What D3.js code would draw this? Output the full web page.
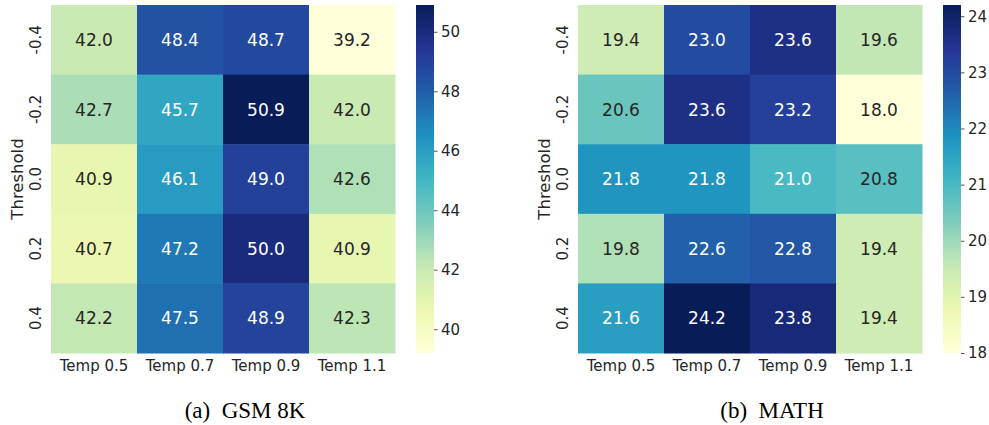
<!DOCTYPE html>
<html>
<head>
<meta charset="utf-8">
<script src="https://cdn.jsdelivr.net/npm/d3@7"></script>
<style>
  body { margin: 0; background: #fff; }
  text { font-family: "DejaVu Sans", sans-serif; }
</style>
</head>
<body>
<svg id="chart" width="989" height="425"></svg>
<script>
// categories
const temps = ["Temp 0.5", "Temp 0.7", "Temp 0.9", "Temp 1.1"];
const thresholds = ["-0.4", "-0.2", "0.0", "0.2", "0.4"];

// values, one row per threshold
const gsmValues = [
    [42.0, 48.4, 48.7, 39.2],
    [42.7, 45.7, 50.9, 42.0],
    [40.9, 46.1, 49.0, 42.6],
    [40.7, 47.2, 50.0, 40.9],
    [42.2, 47.5, 48.9, 42.3]
];
const mathValues = [
    [19.4, 23.0, 23.6, 19.6],
    [20.6, 23.6, 23.2, 18.0],
    [21.8, 21.8, 21.0, 20.8],
    [19.8, 22.6, 22.8, 19.4],
    [21.6, 24.2, 23.8, 19.4]
];

// colorbar ticks
const gsmTicks = [40, 42, 44, 46, 48, 50];
const mathTicks = [18, 19, 20, 21, 22, 23, 24];

// matplotlib YlGnBu (colorbrewer 9, linear)
const ylgnbu = ["#ffffd9", "#edf8b1", "#c7e9b4", "#7fcdbb", "#41b6c4",
                "#1d91c0", "#225ea8", "#253494", "#081d58"];
const interp = d3.piecewise(d3.interpolateRgb, ylgnbu);

// relative luminance, same rule seaborn uses to pick annotation colour
function luminance(c) {
    let rgb = d3.rgb(c);
    let lin = [rgb.r, rgb.g, rgb.b].map(function (v) {
        v = v / 255;
        return v <= 0.03928 ? v / 12.92 : Math.pow((v + 0.055) / 1.055, 2.4);
    });
    return 0.2126 * lin[0] + 0.7152 * lin[1] + 0.0722 * lin[2];
}

const svg = d3.select("#chart");
const FONT = "'DejaVu Sans', sans-serif";

function heatmap(values, ticks, left, caption, id) {
    let top = 5, bottom = 353;
    let width = 344;

    let flat = values.flat();
    let vmin = d3.min(flat), vmax = d3.max(flat);
    let t = d3.scaleLinear().domain([vmin, vmax]).range([0, 1]);
    let color = function (v) { return interp(t(v)); };

    let x = d3.scaleBand().domain(temps).range([left, left + width]);
    let y = d3.scaleBand().domain(thresholds).range([top, bottom]);

    let g = svg.append("g");

    let cells = [];
    values.forEach(function (row, i) {
        row.forEach(function (v, j) {
            cells.push({ th: thresholds[i], temp: temps[j], v: v });
        });
    });

    g.selectAll("rect.cell")
        .data(cells)
        .enter()
        .append("rect")
        .attr("class", "cell")
        .attr("x", d => x(d.temp))
        .attr("y", d => y(d.th))
        .attr("width", x.bandwidth() + 0.5)
        .attr("height", y.bandwidth() + 0.5)
        .attr("fill", d => color(d.v));

    g.selectAll("text.annot")
        .data(cells)
        .enter()
        .append("text")
        .attr("class", "annot")
        .attr("x", d => x(d.temp) + x.bandwidth() / 2)
        .attr("y", d => y(d.th) + y.bandwidth() / 2)
        .attr("dy", "0.36em")
        .attr("text-anchor", "middle")
        .attr("font-size", 17)
        .attr("fill", d => luminance(color(d.v)) > 0.408 ? "#262626" : "#ffffff")
        .text(d => d.v.toFixed(1));

    // x tick labels
    g.selectAll("text.xt")
        .data(temps)
        .enter()
        .append("text")
        .attr("class", "xt")
        .attr("x", d => x(d) + x.bandwidth() / 2)
        .attr("y", bottom + 18)
        .attr("text-anchor", "middle")
        .attr("font-size", 15)
        .attr("fill", "#262626")
        .text(d => d);

    // y tick labels, rotated
    g.selectAll("text.yt")
        .data(thresholds)
        .enter()
        .append("text")
        .attr("class", "yt")
        .attr("transform", d => "translate(" + (left - 10) + "," + (y(d) + y.bandwidth() / 2) + ") rotate(-90)")
        .attr("text-anchor", "middle")
        .attr("font-size", 15)
        .attr("fill", "#262626")
        .text(d => d);

    g.append("text")
        .attr("transform", "translate(" + (left - 28) + "," + ((top + bottom) / 2) + ") rotate(-90)")
        .attr("text-anchor", "middle")
        .attr("font-size", 16.5)
        .attr("fill", "#262626")
        .text("Threshold");

    // colorbar
    let cbx = left + width + 21, cbw = 18;
    let cy = d3.scaleLinear().domain([vmin, vmax]).range([bottom, top]);
    let grad = svg.append("defs").append("linearGradient")
        .attr("id", id)
        .attr("x1", 0).attr("y1", 1).attr("x2", 0).attr("y2", 0);
    d3.range(0, 1.0001, 0.02).forEach(function (s) {
        grad.append("stop").attr("offset", s).attr("stop-color", interp(s));
    });
    g.append("rect")
        .attr("x", cbx)
        .attr("y", top)
        .attr("width", cbw)
        .attr("height", bottom - top)
        .attr("fill", "url(#" + id + ")");

    let axis = g.append("g")
        .attr("transform", "translate(" + (cbx + cbw) + ",0)")
        .call(d3.axisRight(cy).tickValues(ticks).tickSize(3.5).tickPadding(3.5).tickFormat(d3.format("d")));
    axis.select(".domain").remove();
    axis.selectAll("line").attr("stroke", "#262626").attr("stroke-width", 0.8);
    axis.selectAll("text")
        .attr("font-size", 15)
        .attr("fill", "#262626")
        .style("font-family", FONT);

    // caption
    g.append("text")
        .attr("x", left + width / 2 + 22)
        .attr("y", 418)
        .attr("text-anchor", "middle")
        .attr("font-size", 23)
        .attr("fill", "#000")
        .style("font-family", "'Liberation Serif', 'Times New Roman', serif")
        .text(caption);
}

heatmap(gsmValues, gsmTicks, 51, "(a)\u00a0 GSM 8K", "gradA");
heatmap(mathValues, mathTicks, 578, "(b)\u00a0 MATH", "gradB");
</script>
</body>
</html>
